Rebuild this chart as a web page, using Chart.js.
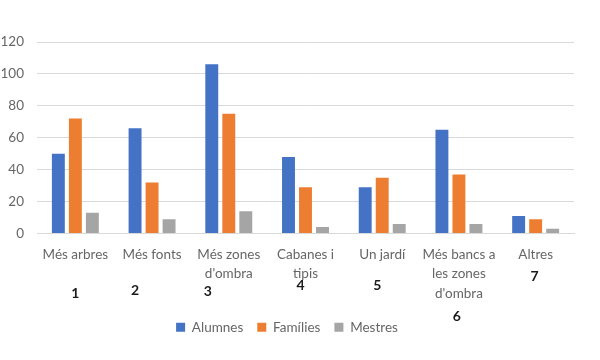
<!DOCTYPE html>
<html>
<head>
<meta charset="utf-8">
<script src="https://cdn.jsdelivr.net/npm/chart.js@4"></script>
<style>
  html, body { margin: 0; padding: 0; background: #ffffff; }
  #wrap { width: 600px; height: 360px; position: relative; }
</style>
</head>
<body>
<div id="wrap"><canvas id="enquesta-chart"></canvas></div>
<script>
// Dades del gràfic
var categories = [
  ['Més arbres'],
  ['Més fonts'],
  ['Més zones', "d'ombra"],
  ['Cabanes i', 'tipis'],
  ['Un jardí'],
  ['Més bancs a', 'les zones', "d'ombra"],
  ['Altres']
]
var numeros = ['1', '2', '3', '4', '5', '6', '7']
var alumnes = [50, 66, 106, 48, 29, 65, 11]
var families = [72, 32, 75, 29, 35, 37, 9]
var mestres = [13, 9, 14, 4, 6, 6, 3]
var yTicks = [0, 20, 40, 60, 80, 100, 120]

// Números escrits a mà sota cada etiqueta (desplaçament respecte al centre)
var numerosPlugin = {
  id: 'numeros',
  afterDraw: function (chart) {
    var ctx = chart.ctx
    var x = chart.scales.x
    var dx = [0, -17, -21, -5, -5, -2, -1]
    var yPos = [293, 290, 291, 285, 285, 316, 276]
    ctx.save()
    ctx.font = 'bold 14px Lato'
    ctx.fillStyle = '#1a1a1a'
    ctx.textAlign = 'center'
    ctx.textBaseline = 'middle'
    numeros.forEach(function (n, i) {
      ctx.fillText(n, x.getPixelForTick(i) + dx[i], yPos[i])
    })
    ctx.restore()
  }
}

var tickColor = '#666666'

var chart = new Chart(document.getElementById('enquesta-chart').getContext('2d'), {
  type: 'bar',
  data: {
    labels: categories,
    datasets: [
      { label: 'Alumnes', data: alumnes, backgroundColor: '#4472C4' },
      { label: 'Famílies', data: families, backgroundColor: '#ED7D31' },
      { label: 'Mestres', data: mestres, backgroundColor: '#A5A5A5' }
    ]
  },
  options: {
    responsive: true,
    maintainAspectRatio: false,
    animation: false,
    categoryPercentage: 0.665,
    barPercentage: 0.76,
    layout: { padding: { top: 42, right: 26, bottom: 16, left: 0 } },
    plugins: {
      tooltip: { enabled: false },
      legend: {
        position: 'bottom',
        labels: {
          boxWidth: 9,
          boxHeight: 9,
          padding: 14,
          color: tickColor,
          font: { family: 'Lato', size: 13.5 }
        }
      }
    },
    scales: {
      x: {
        grid: { display: false, drawTicks: false },
        border: { display: true, color: '#d9d9d9' },
        ticks: {
          color: tickColor,
          font: { family: 'Lato', size: 13.5, lineHeight: 1.45 },
          padding: 11,
          maxRotation: 0,
          autoSkip: false
        },
        afterFit: function (s) { s.height = 73 }
      },
      y: {
        min: 0,
        max: 120,
        afterBuildTicks: function (s) {
          s.ticks = yTicks.map(function (v) { return { value: v } })
        },
        grid: { color: '#d9d9d9', drawTicks: false },
        border: { display: false },
        ticks: {
          color: tickColor,
          font: { family: 'Lato', size: 13.5 },
          padding: 13
        },
        afterFit: function (s) { s.width = 37 }
      }
    }
  },
  plugins: [numerosPlugin]
})
</script>
</body>
</html>
